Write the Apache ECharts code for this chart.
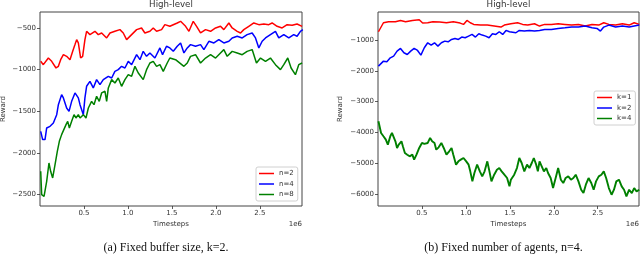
<!DOCTYPE html>
<html><head><meta charset="utf-8">
<script src="https://cdn.jsdelivr.net/npm/echarts@6/dist/echarts.min.js"></script>
<style>html,body{margin:0;padding:0;background:#fff}#c{width:640px;height:269px}</style>
</head><body><div id="c"></div>
<script>
// ---------- Data (timesteps in units of 1e6) ----------
// Left panel: fixed buffer size, k=2
const leftN2_t = [0.008,0.038,0.095,0.133,0.182,0.209,0.235,0.266,0.303,0.322,0.341,0.372,0.398,0.417,0.436,0.462,0.485,0.511,0.530,0.568,0.625,0.663,0.701,0.758,0.796,0.852,0.909,0.947,0.985,1.042,1.099,1.155,1.193,1.250,1.288,1.326,1.383,1.420,1.477,
  1.561,1.599,1.656,1.694,1.743,1.781,1.826,1.883,1.940,1.997,2.053,2.091,2.148,2.186,2.243,2.281,2.318,2.375,2.432,2.489,2.546,2.602,2.640,2.697,2.754,2.811,2.868,2.924,2.981];
const leftN2_v = [-901,-941,-861,-901,-981,-961,-881,-821,-841,-821,-881,-781,-700,-640,-680,-861,-841,-640,-540,-580,-540,-580,-560,-620,-560,-540,-520,-560,-640,-580,-520,-500,-560,-540,-500,-540,-520,-460,-480,
  -440,-420,-480,-540,-420,-480,-560,-520,-540,-500,-480,-520,-440,-500,-540,-560,-520,-480,-440,-460,-452,-460,-440,-480,-500,-460,-468,-452,-480];

const leftN4_t = [0.008,0.030,0.057,0.076,0.114,0.152,0.190,0.209,0.246,0.266,0.303,0.330,0.360,0.398,0.436,0.455,0.493,0.511,0.530,0.568,0.606,0.644,0.682,0.720,0.777,0.815,0.852,0.890,0.928,0.966,1.004,1.042,1.099,1.137,1.174,1.212,1.250,1.307,1.364,1.394,1.439,1.477,
  1.516,1.561,1.599,1.637,1.675,1.712,1.769,1.826,1.864,1.921,1.978,2.034,2.091,2.148,2.186,2.243,2.300,2.356,2.413,2.451,2.489,2.527,2.565,2.621,2.678,2.716,2.773,2.830,2.886,2.924,2.962,2.989];
const leftN4_v = [-1742,-1842,-1842,-1702,-1682,-1642,-1542,-1422,-1301,-1341,-1462,-1502,-1382,-1281,-1341,-1422,-1542,-1341,-1201,-1141,-1221,-1121,-1181,-1121,-1081,-1101,-1021,-1001,-961,-981,-901,-941,-821,-881,-781,-841,-801,-861,-740,-821,-720,-740,
  -780,-720,-680,-800,-740,-700,-720,-700,-760,-660,-680,-640,-680,-660,-620,-600,-620,-580,-560,-620,-740,-660,-620,-580,-540,-620,-580,-620,-580,-600,-540,-520];

const leftN8_t = [0.008,0.019,0.046,0.076,0.102,0.121,0.144,0.171,0.197,0.220,0.246,0.266,0.296,0.315,0.334,0.360,0.387,0.409,0.436,0.455,0.493,0.523,0.550,0.587,0.614,0.644,0.674,0.701,0.739,0.758,0.777,0.815,0.852,0.890,0.928,0.966,1.004,1.042,1.080,1.118,1.174,1.212,1.250,1.288,1.326,1.364,1.402,1.447,1.477,
  1.542,1.637,1.675,1.712,1.769,1.826,1.883,1.940,1.997,2.053,2.091,2.129,2.186,2.243,2.300,2.356,2.413,2.462,2.508,2.565,2.621,2.678,2.735,2.773,2.818,2.856,2.905,2.943,2.981];
const leftN8_v = [-2223,-2504,-2524,-2343,-2123,-2223,-2303,-2143,-1983,-1862,-1782,-1762,-1662,-1622,-1702,-1622,-1542,-1582,-1542,-1582,-1542,-1582,-1462,-1382,-1422,-1321,-1382,-1281,-1261,-1382,-1221,-1121,-1161,-1101,-1201,-1121,-1061,-1081,-961,-1041,-1121,-1001,-921,-901,-961,-941,-1021,-921,-861,
  -881,-961,-921,-841,-821,-921,-861,-821,-861,-801,-760,-841,-781,-801,-821,-781,-760,-921,-861,-901,-861,-941,-1001,-941,-861,-981,-1061,-941,-921];

// Right panel: fixed number of agents, n=4
const rightK1_t = [0.005,0.023,0.062,0.120,0.198,0.256,0.314,0.391,0.469,0.508,0.566,0.624,0.702,0.779,0.857,0.934,0.973,1.012,1.050,1.089,1.167,1.244,1.322,1.399,1.438,
  1.512,1.588,1.646,1.704,1.781,1.838,1.896,1.973,2.050,2.127,2.204,2.281,2.358,2.435,2.512,2.569,2.627,2.704,2.781,2.858,2.915,2.973];
const rightK1_v = [-729,-729,-436,-403,-403,-360,-403,-360,-338,-447,-436,-403,-414,-436,-403,-447,-490,-360,-436,-490,-512,-512,-544,-577,-512,
  -468,-436,-490,-512,-468,-544,-490,-490,-468,-490,-512,-490,-544,-490,-512,-436,-490,-512,-468,-512,-436,-490];

const rightK2_t = [0.005,0.023,0.062,0.101,0.140,0.178,0.217,0.256,0.295,0.333,0.372,0.411,0.450,0.488,0.527,0.566,0.605,0.643,0.682,0.721,0.760,0.798,0.837,0.876,0.915,0.953,0.992,1.031,1.070,1.109,1.147,1.186,1.225,1.264,1.302,1.341,1.380,1.419,1.457,1.496,
  1.512,1.569,1.608,1.665,1.723,1.781,1.838,1.896,1.973,2.050,2.127,2.204,2.281,2.358,2.435,2.492,2.531,2.569,2.627,2.704,2.781,2.858,2.915,2.973];
const rightK2_v = [-1846,-1814,-1684,-1705,-1575,-1521,-1358,-1271,-1412,-1467,-1358,-1271,-1336,-1488,-1250,-1087,-1163,-1087,-1195,-1087,-1033,-1054,-978,-946,-978,-902,-924,-870,-816,-902,-794,-837,-870,-924,-794,-816,-729,-816,-685,-729,
  -707,-761,-685,-707,-685,-707,-685,-653,-653,-620,-599,-577,-577,-544,-599,-620,-707,-577,-512,-577,-544,-577,-544,-512];

const rightK4_t = [0.005,0.012,0.035,0.062,0.089,0.112,0.140,0.159,0.178,0.198,0.217,0.236,0.267,0.283,0.306,0.333,0.360,0.391,0.411,0.438,0.469,0.500,0.527,0.566,0.593,0.616,0.643,0.663,0.690,0.721,0.748,0.779,0.810,0.837,0.857,0.888,0.915,0.942,0.973,1.004,1.031,1.050,1.074,1.097,1.128,1.159,1.186,1.213,1.244,1.264,1.291,1.322,1.353,1.380,1.407,1.438,1.469,1.496,
  1.512,1.550,1.581,1.608,1.635,1.665,1.696,1.723,1.750,1.773,1.800,1.819,1.838,1.858,1.888,1.915,1.935,1.965,1.992,2.012,2.031,2.050,2.081,2.108,2.135,2.165,2.196,2.223,2.250,2.281,2.312,2.338,2.365,2.396,2.427,2.454,2.481,2.512,2.542,2.569,2.596,2.627,2.658,2.685,2.712,2.742,2.773,2.800,2.827,2.858,2.888,2.915,2.942,2.973];
const rightK4_v = [-3637,-3691,-4016,-4125,-4233,-4396,-4125,-4016,-4071,-4288,-4505,-4396,-4288,-4450,-4667,-4722,-4776,-4722,-4884,-4722,-4505,-4342,-4374,-4342,-4179,-4288,-4342,-4559,-4483,-4342,-4505,-4722,-4613,-4505,-4722,-5047,-4939,-4884,-4830,-4939,-5047,-5264,-5590,-5318,-5047,-5264,-5427,-5264,-4939,-5210,-5590,-5373,-5210,-5156,-5264,-5373,-5481,-5752,
  -5535,-5373,-5156,-4830,-4993,-5264,-5047,-5156,-4993,-4830,-5047,-5264,-4939,-4993,-5264,-5156,-5318,-5481,-5807,-5861,-5373,-5156,-5535,-5644,-5481,-5427,-5535,-5481,-5373,-5590,-5861,-5969,-5698,-5481,-5644,-5861,-5590,-5427,-5373,-5264,-5481,-5807,-6024,-5861,-5590,-5535,-5752,-5861,-6078,-5861,-5969,-5807,-5915,-5861];

// Ticks / labels
const xTicks = [0.5, 1.0, 1.5, 2.0, 2.5];
const leftYTicks = [-2500, -2000, -1500, -1000, -500];
const rightYTicks = [-6000, -5000, -4000, -3000, -2000, -1000];
const leftNames = ['n=2', 'n=4', 'n=8'];
const rightNames = ['k=1', 'k=2', 'k=4'];
const panelTitle = 'High-level';
const xName = 'Timesteps';
const yName = 'Reward';
const captionA = '(a) Fixed buffer size, k=2.';
const captionB = '(b) Fixed number of agents, n=4.';

// ---------- Chart ----------
const FONT = 'DejaVu Sans';
const TXT = '#333';
const zip = (t, v) => t.map((x, i) => [x, v[i]]);
const fmtY = v => (v < 0 ? '\u2212' : '') + Math.abs(v);

function xAxis(idx, max) {
  return {
    type: 'value', gridIndex: idx, min: 0, max: max,
    axisLine: { show: false },
    axisTick: { show: true, length: 3, lineStyle: { color: '#333', width: 0.8 }, customValues: xTicks },
    axisLabel: { customValues: xTicks, fontSize: 7, fontFamily: FONT, color: TXT, margin: 4, formatter: v => v.toFixed(1) },
    splitLine: { show: false }
  };
}
function yAxis(idx, min, max, ticks) {
  return {
    type: 'value', gridIndex: idx, min: min, max: max,
    axisLine: { show: false },
    axisTick: { show: true, length: 3, lineStyle: { color: '#333', width: 0.8 }, customValues: ticks },
    axisLabel: { customValues: ticks, fontSize: 7, fontFamily: FONT, color: TXT, margin: 4, formatter: fmtY },
    splitLine: { show: false }
  };
}
function line(name, data, color, xi, width) {
  return {
    name, type: 'line', xAxisIndex: xi, yAxisIndex: xi, data,
    symbol: 'none', showSymbol: false, smooth: false,
    lineStyle: { color, width: width || 1.5 }, itemStyle: { color },
    clip: true, animation: false
  };
}
function legend(names, left, top) {
  return {
    data: names.map(n => ({ name: n, icon: 'rect', itemStyle: { borderWidth: 0 } })),
    left, top, orient: 'vertical', selectedMode: false,
    itemWidth: 15, itemHeight: 1.5, itemGap: 3.5,
    padding: [3, 4, 3, 3],
    backgroundColor: 'rgba(255,255,255,0.85)', borderColor: '#d0d0d0', borderWidth: 1, borderRadius: 2,
    textStyle: { fontSize: 7, lineHeight: 7, fontFamily: FONT, color: TXT }
  };
}
function text(t, x, y, opts) {
  return Object.assign({
    type: 'text', x, y, silent: true,
    style: Object.assign({ text: t, fill: TXT, fontSize: 7, fontFamily: FONT, align: 'center', verticalAlign: 'middle' }, (opts && opts.style) || {})
  }, opts && opts.rotation ? { rotation: opts.rotation } : {});
}

const chart = echarts.init(document.getElementById('c'), null, { renderer: 'canvas' });
chart.setOption({
  animation: false,
  backgroundColor: '#fff',
  grid: [
    { left: 40, top: 12, width: 262, height: 194, show: true, borderColor: '#444', borderWidth: 1, backgroundColor: 'transparent' },
    { left: 378, top: 12, width: 261, height: 194, show: true, borderColor: '#444', borderWidth: 1, backgroundColor: 'transparent' }
  ],
  xAxis: [xAxis(0, 2.98), xAxis(1, 2.97)],
  yAxis: [yAxis(0, -2640, -308, leftYTicks), yAxis(1, -6390, -87, rightYTicks)],
  legend: [legend(leftNames, 256, 167), legend(rightNames, 594, 91)],
  series: [
    line(leftNames[0], zip(leftN2_t, leftN2_v), '#ff0000', 0),
    line(leftNames[1], zip(leftN4_t, leftN4_v), '#0000ff', 0),
    line(leftNames[2], zip(leftN8_t, leftN8_v), '#008000', 0),
    line(rightNames[0], zip(rightK1_t, rightK1_v), '#ff0000', 1),
    line(rightNames[1], zip(rightK2_t, rightK2_v), '#0000ff', 1),
    line(rightNames[2], zip(rightK4_t, rightK4_v), '#008000', 1, 1.9)
  ],
  graphic: [
    text(panelTitle, 171, 4.8, { style: { fontSize: 8.7 } }),
    text(panelTitle, 508.5, 4.8, { style: { fontSize: 8.7 } }),
    text(xName, 171, 224),
    text(xName, 508.5, 224),
    text('1e6', 302, 223.8, { style: { align: 'right' } }),
    text('1e6', 639, 223.8, { style: { align: 'right' } }),
    text(yName, 3.5, 109, { rotation: Math.PI / 2 }),
    text(yName, 340.5, 109, { rotation: Math.PI / 2 }),
    text(captionA, 166, 248, { style: { fontSize: 12, fontFamily: 'Liberation Serif', fill: '#111' } }),
    text(captionB, 503.5, 248, { style: { fontSize: 12, fontFamily: 'Liberation Serif', fill: '#111' } })
  ]
});
</script></body></html>
